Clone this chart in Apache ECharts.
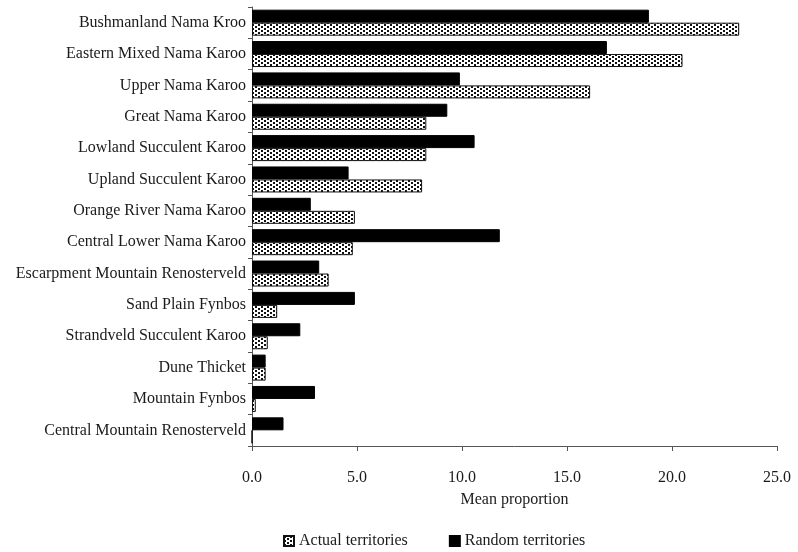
<!DOCTYPE html>
<html>
<head>
<meta charset="utf-8">
<script src="https://cdn.jsdelivr.net/npm/echarts@6/dist/echarts.min.js"></script>
<style>
  html, body { margin: 0; padding: 0; background: #fff; }
  #chart { width: 798px; height: 552px; }
</style>
</head>
<body>
<div id="chart"></div>
<script>
// Vegetation types, top to bottom
const vegTypes = [
  'Bushmanland Nama Kroo',
  'Eastern Mixed Nama Karoo',
  'Upper Nama Karoo',
  'Great Nama Karoo',
  'Lowland Succulent Karoo',
  'Upland Succulent Karoo',
  'Orange River Nama Karoo',
  'Central Lower Nama Karoo',
  'Escarpment Mountain Renosterveld',
  'Sand Plain Fynbos',
  'Strandveld Succulent Karoo',
  'Dune Thicket',
  'Mountain Fynbos',
  'Central Mountain Renosterveld'
];

// Mean proportion of each vegetation type
const actualTerritories = [23.2, 20.5, 16.1, 8.3, 8.3, 8.1, 4.9, 4.8, 3.65, 1.2, 0.75, 0.65, 0.18, 0];
const randomTerritories = [18.9, 16.9, 9.9, 9.3, 10.6, 4.6, 2.8, 11.8, 3.2, 4.9, 2.3, 0.65, 3.0, 1.5];

const xTicks = { min: 0, max: 25, interval: 5 };

// Dotted fill used for the actual-territories bars: offset rows of small dots
function makeDotPattern() {
  const c = document.createElement('canvas');
  c.width = 6; c.height = 4;
  const g = c.getContext('2d');
  g.fillStyle = '#ffffff';
  g.fillRect(0, 0, 6, 4);
  g.fillStyle = '#111111';
  g.fillRect(0, 0, 2, 2);
  g.fillRect(3, 2, 2, 2);
  return c;
}
const dotFill = { image: makeDotPattern(), repeat: 'repeat' };

const font = 'Liberation Serif, Times New Roman, serif';
const textColor = '#1a1a1a';
const chart = echarts.init(document.getElementById('chart'));

chart.setOption({
  backgroundColor: '#ffffff',
  animation: false,
  textStyle: { fontFamily: font },
  grid: { left: 252, right: 21, top: 7, bottom: 106, containLabel: false },
  legend: {
    data: ['Actual territories', 'Random territories'],
    bottom: -2,
    left: 278,
    itemWidth: 10,
    itemHeight: 10,
    itemGap: 41,
    icon: 'rect',
    textStyle: { fontFamily: font, fontSize: 16, color: textColor }
  },
  xAxis: {
    type: 'value',
    min: xTicks.min,
    max: xTicks.max,
    interval: xTicks.interval,
    name: 'Mean proportion',
    nameLocation: 'middle',
    nameGap: 46,
    nameTextStyle: { fontFamily: font, fontSize: 16, color: textColor },
    axisLine: { show: true, lineStyle: { color: '#555', width: 1 } },
    axisTick: { show: true, length: 5, lineStyle: { color: '#555' } },
    axisLabel: {
      margin: 24,
      fontFamily: font, fontSize: 16, color: textColor,
      formatter: v => v.toFixed(1)
    },
    splitLine: { show: false }
  },
  yAxis: {
    type: 'category',
    data: vegTypes,
    inverse: true,
    axisLine: { show: true, lineStyle: { color: '#555', width: 1 } },
    axisTick: { show: true, length: 4, lineStyle: { color: '#555' } },
    axisLabel: { margin: 6, fontFamily: font, fontSize: 16, color: textColor }
  },
  series: [
    {
      name: 'Random territories',
      type: 'bar',
      data: randomTerritories,
      barWidth: 13,
      barGap: '0%',
      itemStyle: { color: '#000', borderColor: '#000', borderWidth: 1 }
    },
    {
      name: 'Actual territories',
      type: 'bar',
      data: actualTerritories,
      barWidth: 13,
      barGap: '0%',
      itemStyle: { color: dotFill, borderColor: '#111', borderWidth: 1 }
    }
  ]
});
</script>
</body>
</html>
